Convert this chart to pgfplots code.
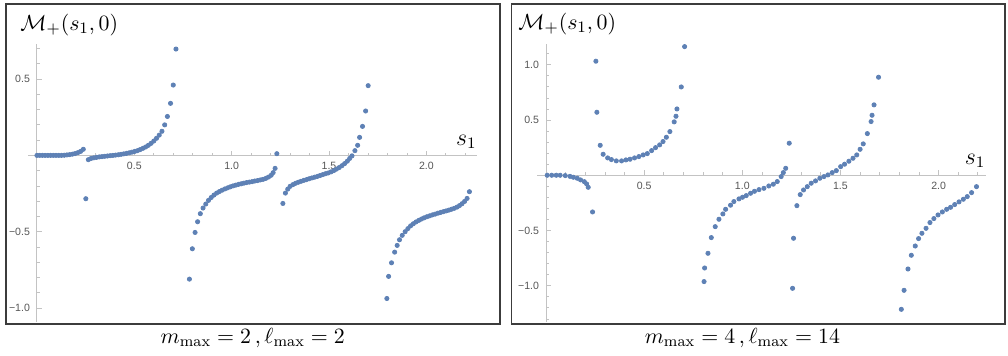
\documentclass[border=0pt]{standalone}
\usepackage{fontspec}
\usepackage{pgfplots}
\pgfplotsset{compat=1.18}
\newfontfamily\tickfont{Liberation Sans}
\definecolor{mblue}{RGB}{94,129,181}
\definecolor{axgray}{RGB}{195,195,195}
\definecolor{tickgray}{RGB}{85,85,85}
\definecolor{framegray}{RGB}{60,60,60}

\pgfplotsset{mma/.style={
    scale only axis, anchor=south west,
    axis lines=middle,
    axis line style={axgray, line width=0.5bp, -},
    every tick/.style={axgray, line width=0.4bp},
    major tick length=2.4bp, minor tick length=1.4bp,
    tick align=inside,
    ticklabel style={font=\tickfont\fontsize{5.3}{6}\selectfont, text=tickgray},
    xtick={0.5,1,1.5,2}, xticklabels={0.5,1.0,1.5,2.0},
    minor xtick={0.1,0.2,...,2.2},
    clip=false,
}, pts/.style={mblue, only marks, mark=*, mark size=1.05bp,
    mark options={draw=none, fill=mblue}}}

\begin{document}
\begin{tikzpicture}
\path[use as bounding box] (0,0) rectangle (504bp,178bp);

% left panel
\draw[framegray, line width=0.8bp] (2.85bp,16bp) rectangle (250bp,176bp);
\begin{axis}[mma,
    at={(14bp,17.15bp)}, width=224.5bp, height=138.85bp,
    xmin=-0.046, xmax=2.26, ymin=-1.09, ymax=0.73,
    ytick={-1,-0.5,0.5}, yticklabels={−1.0,−0.5,0.5},
    minor ytick={-1.0,-0.9,...,0.71},
]
\addplot[pts] table {
0 0
0.014 0
0.028 0
0.042 0
0.056 0
0.070 0
0.084 0
0.098 0
0.112 0
0.126 0
0.140 0.001
0.154 0.003
0.168 0.005
0.182 0.008
0.196 0.012
0.210 0.018
0.224 0.026
0.238 0.040
0.251 -0.284
0.264 -0.028
0.278 -0.020
0.292 -0.016
0.306 -0.013
0.320 -0.010
0.334 -0.008
0.348 -0.006
0.362 -0.004
0.376 -0.002
0.390 0.000
0.404 0.002
0.418 0.004
0.432 0.007
0.446 0.010
0.460 0.013
0.474 0.017
0.488 0.021
0.502 0.026
0.516 0.031
0.530 0.038
0.544 0.046
0.558 0.055
0.572 0.066
0.586 0.079
0.600 0.094
0.614 0.112
0.628 0.133
0.642 0.158
0.656 0.200
0.670 0.255
0.686 0.341
0.700 0.461
0.714 0.697
0.783 -0.811
0.798 -0.612
0.812 -0.505
0.825 -0.435
0.839 -0.382
0.853 -0.345
0.867 -0.319
0.881 -0.295
0.895 -0.276
0.909 -0.260
0.923 -0.247
0.937 -0.237
0.951 -0.228
0.965 -0.220
0.979 -0.213
0.993 -0.206
1.007 -0.200
1.021 -0.195
1.035 -0.190
1.049 -0.186
1.063 -0.182
1.077 -0.178
1.091 -0.175
1.105 -0.172
1.119 -0.168
1.133 -0.165
1.147 -0.161
1.161 -0.157
1.175 -0.151
1.189 -0.142
1.203 -0.130
1.213 -0.113
1.223 -0.085
1.232 0.011
1.263 -0.315
1.276 -0.247
1.288 -0.221
1.300 -0.203
1.314 -0.192
1.328 -0.183
1.342 -0.176
1.356 -0.170
1.370 -0.164
1.384 -0.159
1.398 -0.153
1.412 -0.148
1.426 -0.143
1.440 -0.138
1.454 -0.132
1.468 -0.126
1.482 -0.120
1.496 -0.115
1.510 -0.108
1.524 -0.100
1.538 -0.090
1.552 -0.080
1.566 -0.068
1.580 -0.054
1.594 -0.038
1.606 -0.020
1.618 -0.003
1.633 0.031
1.647 0.066
1.657 0.118
1.672 0.190
1.688 0.291
1.701 0.457
1.797 -0.938
1.806 -0.793
1.821 -0.704
1.837 -0.634
1.850 -0.590
1.862 -0.553
1.876 -0.524
1.891 -0.500
1.905 -0.480
1.919 -0.462
1.933 -0.448
1.947 -0.436
1.961 -0.426
1.975 -0.417
1.989 -0.409
2.003 -0.402
2.017 -0.396
2.031 -0.390
2.045 -0.385
2.059 -0.379
2.073 -0.374
2.087 -0.369
2.101 -0.364
2.115 -0.359
2.129 -0.353
2.143 -0.347
2.157 -0.339
2.170 -0.329
2.183 -0.317
2.196 -0.302
2.209 -0.282
2.221 -0.238
};
\node[anchor=south east, inner sep=0pt, font=\fontsize{12}{14}\selectfont]
    at (axis cs:2.26,0) [yshift=3bp] {$s_1$};
\end{axis}
\node[anchor=west, inner sep=0pt, font=\fontsize{11}{13}\selectfont]
    at (10bp,165.5bp) {$\mathcal{M}_{+}(s_1,0)$};
\node[anchor=base, inner sep=0pt, font=\fontsize{11}{13}\selectfont]
    at (126.4bp,6.5bp) {$m_{\max}=2\,,\ell_{\max}=2$};

% right panel
\draw[framegray, line width=0.8bp] (255.65bp,16bp) rectangle (502.5bp,176bp);
\begin{axis}[mma,
    at={(268.5bp,17.15bp)}, width=224.35bp, height=138.7bp,
    xmin=-0.046, xmax=2.24, ymin=-1.325, ymax=1.185,
    ytick={-1,-0.5,0.5,1}, yticklabels={−1.0,−0.5,0.5,1.0},
    minor ytick={-1.3,-1.2,...,1.11},
]
\addplot[pts] table {
0.006 0
0.029 0
0.052 0
0.072 0
0.098 -0.003
0.122 -0.010
0.139 -0.018
0.159 -0.027
0.176 -0.042
0.195 -0.058
0.207 -0.079
0.215 -0.109
0.237 -0.332
0.254 1.032
0.259 0.570
0.276 0.271
0.291 0.190
0.314 0.157
0.333 0.142
0.358 0.130
0.385 0.130
0.407 0.139
0.428 0.145
0.451 0.157
0.473 0.169
0.495 0.184
0.516 0.196
0.538 0.223
0.558 0.250
0.579 0.275
0.596 0.305
0.613 0.344
0.631 0.395
0.653 0.483
0.662 0.534
0.667 0.600
0.689 0.799
0.706 1.164
0.805 -0.962
0.808 -0.839
0.825 -0.706
0.842 -0.564
0.862 -0.465
0.881 -0.398
0.901 -0.350
0.915 -0.308
0.940 -0.271
0.957 -0.238
0.983 -0.214
1.001 -0.199
1.020 -0.184
1.042 -0.163
1.062 -0.145
1.085 -0.130
1.110 -0.118
1.135 -0.097
1.158 -0.081
1.178 -0.057
1.198 -0.012
1.209 0.024
1.221 0.063
1.239 0.290
1.256 -1.023
1.261 -0.570
1.278 -0.275
1.295 -0.175
1.312 -0.133
1.331 -0.103
1.351 -0.072
1.373 -0.051
1.395 -0.027
1.416 -0.012
1.436 0.003
1.458 0.024
1.479 0.042
1.501 0.078
1.521 0.100
1.543 0.127
1.564 0.154
1.583 0.184
1.600 0.235
1.616 0.284
1.637 0.377
1.656 0.486
1.661 0.543
1.671 0.637
1.694 0.887
1.810 -1.213
1.824 -1.041
1.844 -0.848
1.861 -0.724
1.881 -0.640
1.898 -0.573
1.915 -0.525
1.936 -0.480
1.956 -0.428
1.976 -0.392
1.997 -0.359
2.019 -0.332
2.041 -0.308
2.061 -0.290
2.082 -0.265
2.104 -0.241
2.126 -0.217
2.146 -0.193
2.168 -0.157
2.193 -0.103
};
\node[anchor=south east, inner sep=0pt, font=\fontsize{12}{14}\selectfont]
    at (axis cs:2.24,0) [yshift=3.5bp] {$s_1$};
\end{axis}
\node[anchor=west, inner sep=0pt, font=\fontsize{11}{13}\selectfont]
    at (259bp,166bp) {$\mathcal{M}_{+}(s_1,0)$};
\node[anchor=base, inner sep=0pt, font=\fontsize{11}{13}\selectfont]
    at (371.2bp,6.5bp) {$m_{\max}=4\,,\ell_{\max}=14$};
\end{tikzpicture}
\end{document}
